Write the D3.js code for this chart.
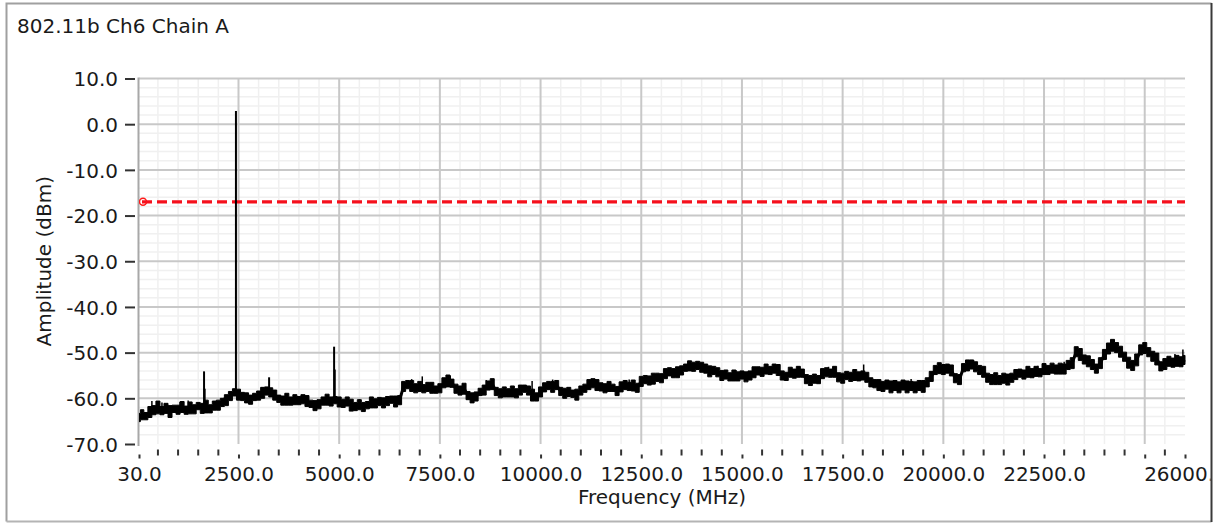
<!DOCTYPE html>
<html>
<head>
<meta charset="utf-8">
<script src="https://cdn.jsdelivr.net/npm/d3@7"></script>
<style>
  html, body { margin: 0; padding: 0; background: #fff; overflow: hidden; }
  text { font-family: "DejaVu Sans", sans-serif; fill: #1a1a1a; }
</style>
</head>
<body>
<svg id="chart" width="1215" height="523"></svg>
<script>
// ---- data ----
const chartTitle = "802.11b Ch6 Chain A";
const xLabel = "Frequency (MHz)";
const yLabel = "Amplitude (dBm)";

const freqStart = 30;
const freqStop = 26000;
const freqStep = 100;   // sweep bins: 30, 100, 200, ... 26000 MHz

const xTickValues = [30, 2500, 5000, 7500, 10000, 12500, 15000, 17500, 20000, 22500, 25000, 26000];
const xTickLabels = ["30.0", "2500.0", "5000.0", "7500.0", "10000.0", "12500.0", "15000.0", "17500.0", "20000.0", "22500.0", "", "26000.0"];
const yTickValues = [10, 0, -10, -20, -30, -40, -50, -60, -70];
const yTickLabels = ["10.0", "0.0", "-10.0", "-20.0", "-30.0", "-40.0", "-50.0", "-60.0", "-70.0"];

const limitLine = -17;   // dBm

// mean amplitude per sweep bin (dBm)
const amplitude = [
  -64.2, -63.6, -63.9, -63.0, -62.6, -62.0, -62.7, -62.2, -62.9, -62.3,
  -62.5, -61.9, -62.6, -62.1, -62.4, -61.7, -62.2, -61.8, -62.3, -61.6,
  -61.5, -60.9, -60.4, -59.5, -58.7, -59.2, -59.6, -59.9, -60.3, -59.7,
  -59.4, -58.8, -58.4, -58.7, -59.3, -60.1, -60.5, -60.2, -60.6, -60.3,
  -60.5, -60.2, -60.6, -61.2, -61.6, -61.3, -60.6, -60.3, -60.7, -60.4,
  -60.8, -61.1, -60.7, -61.5, -61.8, -61.4, -61.9, -61.5, -60.9, -61.1,
  -60.7, -61.0, -60.6, -60.3, -60.7, -60.4, -57.4, -57.0, -57.3, -57.8,
  -57.4, -57.9, -57.5, -57.7, -58.1, -57.8, -56.6, -56.2, -56.7, -57.9,
  -58.3, -57.9, -59.4, -59.9, -59.6, -58.6, -58.2, -57.2, -56.9, -58.5,
  -58.9, -58.6, -58.8, -58.5, -58.9, -58.2, -57.9, -58.3, -59.3, -59.7,
  -58.6, -57.6, -57.2, -57.5, -57.1, -58.5, -58.9, -58.6, -59.0, -59.2,
  -58.3, -57.8, -57.0, -56.7, -57.1, -57.5, -57.8, -57.4, -57.7, -58.4,
  -57.5, -57.1, -57.4, -57.2, -57.7, -56.3, -55.9, -56.1, -55.7, -55.4,
  -55.6, -54.6, -54.2, -54.5, -54.3, -53.9, -53.3, -52.9, -53.1, -52.8,
  -53.2, -53.5, -54.1, -53.9, -54.3, -55.0, -54.8, -55.3, -55.0, -55.2,
  -54.9, -55.3, -55.0, -54.3, -54.0, -54.2, -53.6, -53.9, -53.5, -53.8,
  -55.0, -55.2, -54.3, -54.6, -54.2, -54.5, -55.8, -56.1, -55.7, -55.9,
  -54.6, -54.3, -54.5, -54.2, -55.4, -55.6, -55.0, -55.3, -54.9, -55.2,
  -55.0, -55.4, -56.5, -56.8, -57.1, -57.4, -57.0, -57.5, -57.2, -57.6,
  -57.1, -57.5, -57.3, -57.6, -57.2, -57.4, -56.5, -55.2, -53.8, -53.4,
  -53.7, -53.5, -53.9, -55.6, -55.9, -53.3, -52.8, -52.6, -53.1, -53.8,
  -54.2, -55.5, -55.9, -55.7, -56.0, -55.6, -55.9, -55.5, -54.8, -54.5,
  -54.8, -54.2, -54.5, -54.1, -54.4, -53.6, -53.8, -53.4, -53.7, -53.5,
  -53.6, -52.7, -52.3, -49.8, -50.4, -51.5, -51.9, -52.6, -53.5, -52.3,
  -50.4, -49.1, -48.4, -48.9, -49.8, -50.9, -52.2, -52.8, -51.6, -49.4,
  -49.0, -49.9, -50.8, -51.4, -53.0, -52.5, -51.9, -52.2, -51.8, -52.0,
  -51.6
];

// half of the min/max spread seen inside each sweep bin (dB)
const spread = [
  0.9, 1.1, 0.8, 1.2, 1.0, 1.4, 0.9, 1.1, 1.3, 0.8,
  1.0, 1.2, 0.9, 1.3, 1.0, 0.8, 1.1, 1.4, 0.9, 1.0,
  1.1, 0.9, 1.2, 1.0, 0.8, 1.2, 0.9, 1.1, 1.0, 0.8,
  1.0, 1.2, 0.9, 1.0, 1.1, 0.8, 1.0, 1.3, 0.9, 1.1,
  0.9, 1.0, 1.2, 0.8, 1.1, 1.0, 0.9, 1.2, 1.0, 0.8,
  1.1, 0.9, 1.0, 1.3, 0.9, 1.1, 1.0, 0.8, 1.2, 1.0,
  0.9, 1.1, 1.0, 0.8, 1.2, 1.0, 1.1, 0.9, 1.2, 1.0,
  1.1, 0.9, 1.0, 1.2, 0.8, 1.0, 1.1, 1.3, 0.9, 1.0,
  1.0, 1.2, 0.9, 1.1, 1.0, 0.8, 1.1, 1.0, 1.2, 0.9,
  1.0, 1.1, 0.9, 1.2, 1.0, 1.1, 0.8, 1.0, 1.3, 0.9,
  1.1, 1.0, 0.9, 1.2, 1.0, 0.9, 1.1, 1.0, 0.8, 1.2,
  1.0, 0.9, 1.1, 1.0, 1.2, 0.9, 1.0, 1.1, 0.8, 1.0,
  1.1, 1.0, 0.9, 1.2, 1.0, 1.1, 0.9, 1.0, 1.2, 0.9,
  1.0, 1.1, 0.9, 1.0, 1.2, 1.0, 0.8, 1.1, 1.0, 0.9,
  1.1, 1.0, 1.2, 0.9, 1.0, 1.1, 1.0, 0.9, 1.2, 1.0,
  0.9, 1.1, 1.0, 1.2, 0.9, 1.0, 1.1, 0.9, 1.0, 1.2,
  1.0, 0.9, 1.1, 1.0, 1.2, 0.9, 1.0, 1.1, 1.0, 0.9,
  1.1, 1.0, 0.9, 1.2, 1.0, 1.1, 0.9, 1.0, 1.2, 1.0,
  1.0, 1.1, 1.0, 0.9, 1.2, 1.1, 1.0, 1.3, 1.1, 1.2,
  1.1, 1.3, 1.0, 1.2, 1.1, 1.3, 1.0, 1.1, 1.0, 1.2,
  1.1, 1.0, 1.2, 1.0, 1.1, 0.9, 1.2, 1.0, 1.1, 1.0,
  1.2, 1.0, 1.1, 1.3, 1.0, 1.1, 1.2, 1.0, 1.1, 0.9,
  1.0, 1.2, 1.0, 1.1, 0.9, 1.2, 1.0, 1.1, 1.0, 1.2,
  1.1, 1.0, 1.2, 1.1, 1.3, 1.0, 1.2, 1.1, 1.0, 1.2,
  1.1, 1.2, 1.3, 1.1, 1.2, 1.0, 1.2, 1.1, 1.3, 1.1,
  1.2, 1.0, 1.1, 1.3, 1.0, 1.2, 1.1, 1.0, 1.2, 1.1,
  1.0
];

// narrow emissions: [frequency MHz, peak dBm]
const spikes = [[1645, -54.1], [1660, -57.9], [2437, 2.9], [3260, -55.4], [4874, -48.7], [4890, -53.7]];
// single-bin noise peaks: [frequency MHz, peak dBm]
const hairs = [
  [350, -60.6], [600, -60.9], [1050, -60.8], [1250, -60.5], [2150, -59.8], [5500, -60.2],
  [6800, -55.8], [7063, -55.2], [7758, -55.0], [8650, -56.0], [9790, -56.2], [10300, -55.9],
  [11350, -55.8], [12200, -55.9], [14850, -53.8], [16400, -53.0], [17150, -53.1], [18022, -52.6],
  [19200, -55.8], [20750, -51.6], [22350, -52.9], [23000, -52.0], [25750, -50.3], [25948, -49.3]
];

// ---- layout ----
const W = 1215, H = 523;
const plot = { left: 139, right: 1185, top: 78.5, bottom: 444 };

const svg = d3.select("#chart");

const x = d3.scaleLinear().domain([freqStart, freqStop]).range([plot.left, plot.right]);
const y = d3.scaleLinear().domain([-70, 10]).range([plot.bottom, plot.top]);

const trace = amplitude.map((v, i) => ({ f: i === 0 ? freqStart : i * freqStep, v, s: spread[i] }));
const binAt = f => Math.min(amplitude.length - 1, Math.round(f / freqStep));

// outer panel frame
svg.append("rect").attr("x", 0).attr("y", 0).attr("width", W).attr("height", H).attr("fill", "#fff");
svg.append("path")
  .attr("d", `M6.5,521.5 V3.5 H1211.5`)
  .attr("fill", "none").attr("stroke", "#a0a0a0").attr("stroke-width", 2);
svg.append("path")
  .attr("d", `M6.5,521.5 H1211.5`)
  .attr("fill", "none").attr("stroke", "#b4b4b4").attr("stroke-width", 2);
svg.append("line")
  .attr("x1", 1211.5).attr("x2", 1211.5).attr("y1", 3).attr("y2", 522)
  .attr("stroke", "#3a3a3a").attr("stroke-width", 2);

const defs = svg.append("defs");
defs.append("clipPath").attr("id", "panelClip")
  .append("rect").attr("x", 8).attr("y", 5).attr("width", 1202.5).attr("height", 515);
defs.append("clipPath").attr("id", "plotClip")
  .append("rect").attr("x", plot.left).attr("y", plot.top - 2)
  .attr("width", plot.right - plot.left + 2).attr("height", plot.bottom - plot.top + 4);

// title
svg.append("text").attr("x", 17).attr("y", 33).attr("font-size", 20).text(chartTitle);

// ---- grid ----
const grid = svg.append("g");
const xMinor = d3.range(500, freqStop, 500).filter(f => f % 2500 !== 0);
const yMinor = d3.range(-68, 10, 2).filter(v => v % 10 !== 0);

grid.selectAll("line.xm").data(xMinor).join("line")
  .attr("x1", d => x(d)).attr("x2", d => x(d))
  .attr("y1", plot.top).attr("y2", plot.bottom)
  .attr("stroke", "#f0f0f0").attr("stroke-width", 1.5);
grid.selectAll("line.ym").data(yMinor).join("line")
  .attr("x1", plot.left).attr("x2", plot.right)
  .attr("y1", d => y(d)).attr("y2", d => y(d))
  .attr("stroke", "#f0f0f0").attr("stroke-width", 1.5);
grid.selectAll("line.xM").data(xTickValues.filter(f => f % 2500 === 0)).join("line")
  .attr("x1", d => x(d)).attr("x2", d => x(d))
  .attr("y1", plot.top).attr("y2", plot.bottom)
  .attr("stroke", "#c8c8c8").attr("stroke-width", 2);
grid.selectAll("line.yM").data(yTickValues.filter(v => v > -70)).join("line")
  .attr("x1", plot.left).attr("x2", plot.right)
  .attr("y1", d => y(d)).attr("y2", d => y(d))
  .attr("stroke", "#c8c8c8").attr("stroke-width", 2);

// left axis line
svg.append("line")
  .attr("x1", plot.left - 0.5).attr("x2", plot.left - 0.5)
  .attr("y1", plot.top - 1).attr("y2", plot.bottom + 2)
  .attr("stroke", "#a8a8a8").attr("stroke-width", 2);

// ---- y axis ----
const yAxis = d3.axisLeft(y).tickValues(yTickValues)
  .tickFormat((d, i) => yTickLabels[i]).tickSize(10).tickPadding(7);
const gy = svg.append("g").attr("transform", `translate(${plot.left - 4},0)`).call(yAxis);
gy.select(".domain").remove();
gy.selectAll(".tick line").attr("stroke", "#333").attr("stroke-width", 2);
gy.selectAll(".tick text").attr("font-size", 20).attr("fill", "#1a1a1a")
  .attr("font-family", "DejaVu Sans, sans-serif").attr("dy", "0.36em");

// ---- x axis ----
const xAxis = d3.axisBottom(x).tickValues(xTickValues)
  .tickFormat((d, i) => xTickLabels[i]).tickSize(9).tickPadding(8);
const gx = svg.append("g").attr("transform", `translate(0,${plot.bottom + 5.5})`)
  .attr("clip-path", "url(#panelClip)").call(xAxis);
gx.select(".domain").remove();
gx.selectAll(".tick line").attr("stroke", "#333").attr("stroke-width", 2);
gx.selectAll(".tick text").attr("font-size", 20).attr("fill", "#1a1a1a")
  .attr("font-family", "DejaVu Sans, sans-serif").attr("dy", "0.71em");
svg.append("g").attr("transform", `translate(0,${plot.bottom + 5.5})`)
  .selectAll("line").data(xMinor).join("line")
  .attr("x1", d => x(d)).attr("x2", d => x(d))
  .attr("y1", 0).attr("y2", 6)
  .attr("stroke", "#333").attr("stroke-width", 2);

// axis titles
svg.append("text")
  .attr("x", (plot.left + plot.right) / 2).attr("y", 504)
  .attr("text-anchor", "middle").attr("font-size", 20).text(xLabel);
svg.append("text")
  .attr("transform", `translate(51,${(plot.top + plot.bottom) / 2}) rotate(-90)`)
  .attr("text-anchor", "middle").attr("font-size", 20).text(yLabel);

// ---- traces ----
const layer = svg.append("g").attr("clip-path", "url(#plotClip)");

// limit line with start marker
layer.append("circle")
  .attr("cx", x(freqStart) + 4).attr("cy", y(limitLine)).attr("r", 3.5)
  .attr("fill", "#fff").attr("stroke", "#ff1a1a").attr("stroke-width", 1.5);
layer.append("line")
  .attr("x1", x(freqStart) + 3).attr("x2", plot.right)
  .attr("y1", y(limitLine)).attr("y2", y(limitLine))
  .attr("stroke", "#f5101c").attr("stroke-width", 3.2)
  .attr("stroke-dasharray", "10,5");

// spectrum: min/max band per bin plus the mean trace
const band = d3.area().curve(d3.curveStep)
  .x(d => x(d.f)).y0(d => y(d.v - d.s)).y1(d => y(d.v + d.s));
layer.append("path").datum(trace)
  .attr("d", band)
  .attr("fill", "#000").attr("stroke", "#000").attr("stroke-width", 1);

const line = d3.line().x(d => x(d.f)).y(d => y(d.v));
layer.append("path").datum(trace)
  .attr("d", line)
  .attr("fill", "none").attr("stroke", "#000").attr("stroke-width", 3);

layer.selectAll("line.spike").data(spikes).join("line")
  .attr("x1", d => x(d[0])).attr("x2", d => x(d[0]))
  .attr("y1", d => y(amplitude[binAt(d[0])])).attr("y2", d => y(d[1]))
  .attr("stroke", "#000").attr("stroke-width", 2);
layer.selectAll("line.hair").data(hairs).join("line")
  .attr("x1", d => x(d[0])).attr("x2", d => x(d[0]))
  .attr("y1", d => y(amplitude[binAt(d[0])])).attr("y2", d => y(d[1]))
  .attr("stroke", "#000").attr("stroke-width", 1.5);
</script>
</body>
</html>
